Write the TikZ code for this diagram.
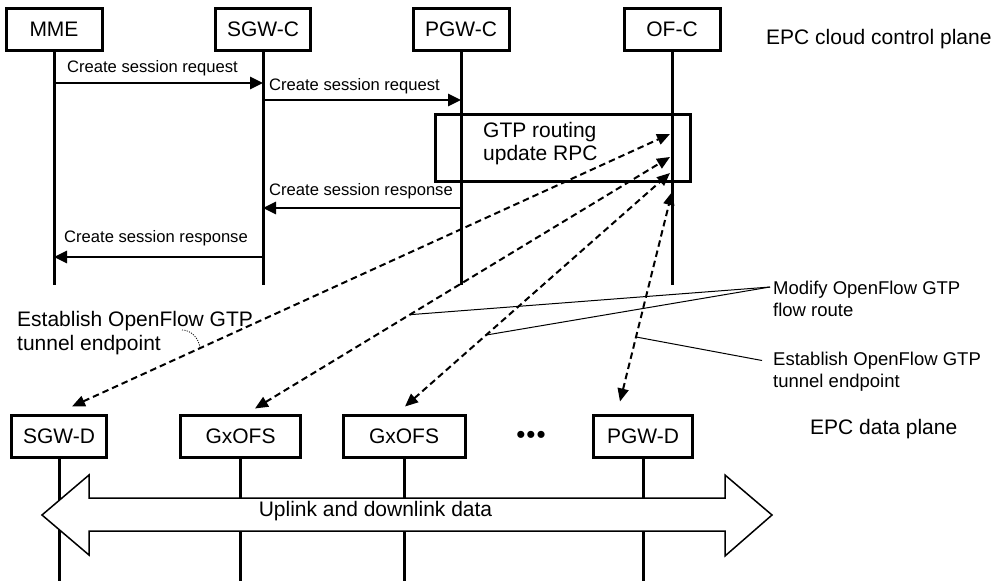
\documentclass[tikz,border=0pt]{standalone}
\usepackage{fontspec}
\setmainfont{Liberation Sans}
\usetikzlibrary{arrows.meta,calc}

\begin{document}
\begin{tikzpicture}[x=1pt,y=-1pt,
  ent/.style={draw, line width=3pt, minimum height=42pt, inner sep=0pt,
    font=\fontsize{21}{23}\selectfont},
  life/.style={line width=3pt},
  msg/.style={line width=2.8pt, -{Triangle[length=13pt,width=12pt]}},
  msglbl/.style={inner sep=0pt, font=\fontsize{16.6}{19}\selectfont},
  sig/.style={line width=2pt, dash pattern=on 6.5pt off 4pt,
    {Triangle[length=13pt,width=11pt]}-{Triangle[length=13pt,width=11pt]}},
  note/.style={line width=1pt},
  fine/.style={line width=0.7pt, dash pattern=on 1.2pt off 1.2pt},
  bigtxt/.style={inner sep=0pt, align=left, font=\fontsize{21}{24}\selectfont},
  smalltxt/.style={inner sep=0pt, align=left, font=\fontsize{18.5}{22}\selectfont},
]
\useasboundingbox (0,0) rectangle (1002,581);

% ---- control plane entities ----
\node[ent, minimum width=96pt] (mme)  at (54,29)  {MME};
\node[ent, minimum width=95pt] (sgwc) at (263,29) {SGW-C};
\node[ent, minimum width=96pt] (pgwc) at (461,29) {PGW-C};
\node[ent, minimum width=96pt] (ofc)  at (672,29) {OF-C};
\node[bigtxt, anchor=west] (cplane) at (766,39) {EPC cloud control plane};

\coordinate (mmeE)  at (mme.south  |- 0,285);
\coordinate (sgwcE) at (sgwc.south |- 0,285);
\coordinate (pgwcE) at (pgwc.south |- 0,285);
\coordinate (ofcE)  at (ofc.south  |- 0,285);
\draw[life] (mme)  -- (mmeE);
\draw[life] (sgwc) -- (sgwcE);
\draw[life] (pgwc) -- (pgwcE);
\draw[life] (ofc)  -- (ofcE);

% ---- session messages ----
\draw[msg] (mme.south |- 0,83) --
  node[msglbl, above=6pt, xshift=-6pt] (m1) {Create session request} (sgwc.south |- 0,83);
\draw[msg] (sgwc.south |- 0,100) --
  node[msglbl, above=5pt, xshift=-7.5pt] (m2) {Create session request} (pgwc.south |- 0,100);
\draw[msg] (pgwc.south |- 0,208) --
  node[msglbl, above=8pt, xshift=-1pt] (m3) {Create session response} (sgwc.south |- 0,208);
\draw[msg] (sgwc.south |- 0,257) --
  node[msglbl, above=10pt, xshift=-2.5pt] (m4) {Create session response} (mme.south |- 0,257);

% ---- GTP routing update box ----
\node[draw, line width=3pt, minimum width=255pt, minimum height=67pt, inner sep=0pt]
  (gtp) at (562.5,147.5) {};
\node[bigtxt, anchor=west, font=\fontsize{21}{23}\selectfont] (gtpt) at (483,143.5)
  {GTP routing\\update RPC};

% ---- data plane entities ----
\node[ent, minimum width=95pt]  (sgwd) at (59,436)    {SGW-D};
\node[ent, minimum width=120pt] (gx1)  at (240.5,436) {GxOFS};
\node[ent, minimum width=122pt] (gx2)  at (404,436)   {GxOFS};
\node[ent, minimum width=99pt]  (pgwd) at (643,436)   {PGW-D};
\node[inner sep=0pt, font=\fontsize{26}{26}\selectfont] (dots) at (531,437) {•\kern1pt•\kern1pt•};
\node[bigtxt, anchor=west] (dplane) at (810,429) {EPC data plane};

\coordinate (sgwdE) at (sgwd.south |- 0,581);
\coordinate (gx1E)  at (gx1.south  |- 0,581);
\coordinate (gx2E)  at (gx2.south  |- 0,581);
\coordinate (pgwdE) at (pgwd.south |- 0,581);
\draw[life] (sgwd) -- (sgwdE);
\draw[life] (gx1)  -- (gx1E);
\draw[life] (gx2)  -- (gx2E);
\draw[life] (pgwd) -- (pgwdE);

% ---- user plane traffic ----
\draw[line width=1.5pt, fill=white]
  (42,515) -- (89,475) -- (89,498) -- (725,498) -- (725,475) -- (772,515)
  -- (725,556) -- (725,531) -- (89,531) -- (89,555) -- cycle;
\node[bigtxt] (flow) at (375.5,511) {Uplink and downlink data};

% ---- OpenFlow signalling ----
\coordinate (of1) at (670,134);
\coordinate (of2) at (670,157);
\coordinate (of3) at (670,173);
\coordinate (of4) at (672,192);
\draw[sig] ([xshift=13pt,yshift=7pt]sgwd.north) -- coordinate[pos=0.214] (p1) (of1);
\draw[sig] ([xshift=14.5pt,yshift=5pt]gx1.north) -- coordinate[pos=0.373] (p2) (of2);
\draw[sig] ([xshift=1pt,yshift=7pt]gx2.north) -- coordinate[pos=0.306] (p3) (of3);
\draw[sig] ([xshift=-23pt,yshift=12pt]pgwd.north) -- coordinate[pos=0.308] (p4) (of4);

% ---- annotations ----
\node[smalltxt, anchor=west] (modl) at (773,298.5) {Modify OpenFlow GTP\\flow route};
\coordinate (modk) at ([xshift=-3pt,yshift=11.5pt]modl.west);
\draw[note] (modk) -- (p2);
\draw[note] (modk) -- (p3);

\node[smalltxt, anchor=west] (estr) at (773,371.5) {Establish OpenFlow GTP\\tunnel endpoint};
\coordinate (estrk) at ([xshift=-11pt,yshift=11pt]estr.west);
\draw[note] (estrk) -- (p4);

\node[bigtxt, anchor=west] (estl) at (17,333) {Establish OpenFlow GTP\\tunnel endpoint};
\coordinate (estlk) at (182,330);
\draw[fine] (estlk) .. controls (191,330) and (199,338) .. (p1);
\end{tikzpicture}
\end{document}
